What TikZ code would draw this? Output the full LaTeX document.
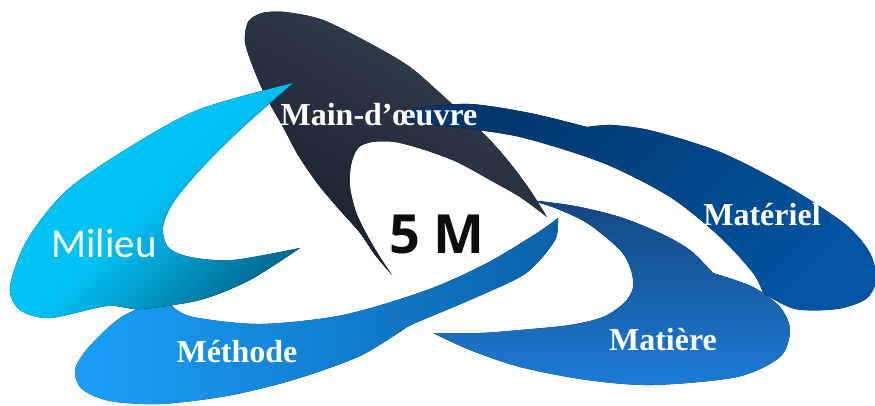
\documentclass[tikz,border=0pt]{standalone}
\usepackage{fontspec}
\setmainfont{Liberation Serif}
\newfontfamily\calibri{Carlito}
\newfontfamily\opensans{Open Sans}
\usepackage{tikz}

\definecolor{milieuA}{RGB}{0,200,250}
\definecolor{milieuB}{RGB}{0,106,146}
\definecolor{methodeA}{RGB}{26,160,250}
\definecolor{methodeB}{RGB}{10,98,168}
\definecolor{mainA}{RGB}{52,64,82}
\definecolor{mainB}{RGB}{24,31,44}
\definecolor{materielA}{RGB}{0,54,106}
\definecolor{materielB}{RGB}{0,84,162}
\definecolor{matiereA}{RGB}{20,70,128}
\definecolor{matiereB}{RGB}{28,124,214}

\begin{document}
\begin{tikzpicture}[x=1pt, y=-1pt,
    lab/.style={text=white, inner sep=0pt, anchor=base,
        font=\fontsize{32}{36}\selectfont\bfseries}]
\useasboundingbox (0,0) rectangle (875,405);

% Methode
\fill[left color=methodeA, right color=methodeB]
    plot[smooth] coordinates {(558,218) (556,238) (540,260) (520,277) (470,300)
        (420,321) (407,327)}
    -- plot[smooth] coordinates {(407,327) (360,356) (293,380) (227,396) (160,404)
        (110,401) (82,389) (75,370) (88,348) (120,318) (160,300) (173,307)}
    -- plot[smooth] coordinates {(173,307) (193,317) (260,324) (343,315) (427,290)
        (487,263) (537,233) (558,218)}
    -- cycle;

% Main-d'oeuvre
\fill[top color=mainA, bottom color=mainB, shading angle=-30]
    plot[smooth] coordinates {(392,275) (375,255) (360,233) (337,207) (317,183)
        (298,155) (283,127) (265,95) (253,67) (245,42) (248,22) (262,13) (285,12)
        (323,20) (373,45) (410,67) (440,93) (467,118) (490,140) (510,163)
        (530,190) (547,217)}
    -- plot[smooth] coordinates {(547,217) (520,197) (490,180) (457,162) (425,150)
        (395,142) (372,142) (358,148) (351,165) (350,187) (356,212) (367,235)
        (380,257) (392,275)}
    -- cycle;

% Materiel
\fill[top color=materielA, bottom color=materielB, shading angle=45]
    plot[smooth] coordinates {(400,116) (420,108) (470,104) (530,113) (587,127)}
    -- plot[smooth] coordinates {(587,127) (612,125) (653,131) (720,152) (787,186)
        (845,224) (870,253) (876,280) (866,299) (837,309) (795,309) (763,293)}
    -- plot[smooth] coordinates {(763,293) (753,273) (720,237) (670,197) (603,163)
        (520,137) (453,127) (420,123) (400,116)}
    -- cycle;

% Matiere
\fill[top color=matiereA, bottom color=matiereB]
    plot[smooth] coordinates {(530,200) (575,206) (620,217) (660,233) (690,250)
        (713,273)}
    -- plot[smooth] coordinates {(713,273) (753,287) (780,307) (790,330) (780,357)
        (737,377) (653,385) (587,380) (520,367) (470,350) (433,333)}
    -- plot[smooth] coordinates {(433,333) (480,333) (520,330) (570,325) (603,317)
        (624,303) (633,288) (631,270) (620,250) (587,223) (555,208) (530,200)}
    -- cycle;

% Milieu
\fill[top color=milieuA, bottom color=milieuB, middle color=milieuA!92!milieuB,
      shading angle=45]
    plot[smooth] coordinates {(293,83) (200,109) (133,145) (67,190)
        (27,240) (10,287) (20,310) (50,318) (107,306) (140,309) (200,300)
        (250,280) (300,248)}
    -- plot[smooth] coordinates {(300,248) (233,260) (190,257) (168,247)
        (163,227) (173,203) (200,170) (240,130) (293,83)}
    -- cycle;

% labels
\node[lab] (main) at (379,125) {Main-d’œuvre};
\node[lab] (materiel) at (762,225) {Matériel};
\node[lab] (matiere) at (663,350) {Matière};
\node[lab] (methode) at (237,362) {Méthode};
\node[lab, font=\fontsize{41}{46}\calibri] (milieu) at (104,257) {Milieu};
\node[lab, text=black!95, font=\fontsize{54}{60}\opensans\bfseries] (cinqm) at (437,253) {5 M};
\end{tikzpicture}
\end{document}
